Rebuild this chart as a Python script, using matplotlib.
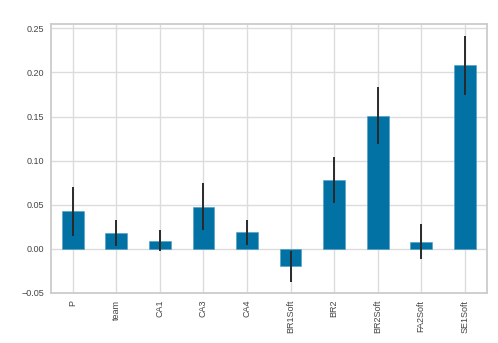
import matplotlib
matplotlib.use("Agg")
import matplotlib.pyplot as plt
import numpy as np

features = ["P", "team", "CA1", "CA3", "CA4", "BR1Soft", "BR2", "BR2Soft", "FA2Soft", "SE1Soft"]
importance = [0.0424, 0.018, 0.0094, 0.048, 0.0189, -0.0197, 0.0784, 0.151, 0.0083, 0.208]
std = [0.0275, 0.015, 0.012, 0.027, 0.014, 0.0175, 0.026, 0.0326, 0.0195, 0.0334]

plt.rcParams["font.family"] = ["Liberation Sans", "DejaVu Sans"]

fig = plt.figure(figsize=(4.98, 3.43), dpi=100)
ax = fig.add_axes([0.1024, 0.1458, 0.8746, 0.7842])

x = np.arange(len(features))
ax.set_axisbelow(True)
ax.grid(True, color="#dcdcdc", linewidth=1.0)
ax.bar(x, importance, width=0.5, color="#0172a3", edgecolor="#4f9cc4", linewidth=0.4,
       yerr=std, error_kw=dict(ecolor="#2a2a2a", elinewidth=1.4, capsize=0))

ax.set_xlim(-0.5, len(features) - 0.5)
ax.set_ylim(-0.05, 0.2549)
ax.set_yticks(np.arange(-0.05, 0.26, 0.05))
ax.set_yticklabels([f"{v:.2f}".replace("-", "\u2212") for v in np.arange(-0.05, 0.26, 0.05)])
ax.set_xticks(x)
ax.set_xticklabels(features, rotation=90)

ax.tick_params(axis="both", labelsize=6.5, labelcolor="#444444", length=0, pad=5)
for s in ax.spines.values():
    s.set_color("#cccccc")
    s.set_linewidth(1.3)

fig.savefig("out.png", dpi=100)
